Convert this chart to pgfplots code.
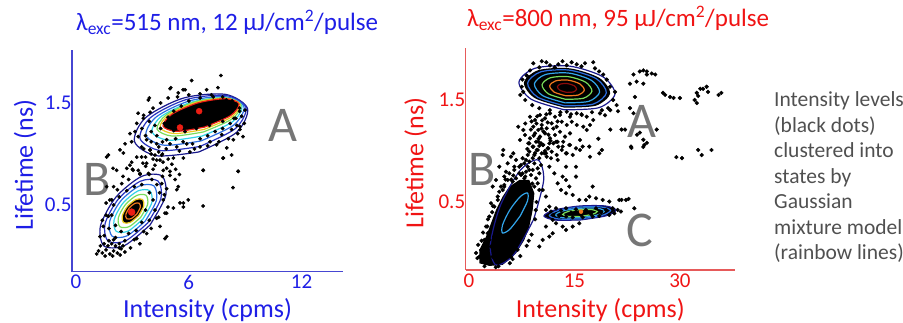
\documentclass[border=0pt]{standalone}
\usepackage{pgfplots}
\pgfplotsset{compat=1.18}
\usepackage{fontspec}
\setmainfont{Carlito}
\definecolor{tblue}{RGB}{30,30,230}
\definecolor{axblue}{RGB}{70,70,210}
\definecolor{tred}{RGB}{240,20,20}
\definecolor{axred}{RGB}{230,90,90}
\definecolor{cnavy}{RGB}{25,25,140}
\definecolor{cblue2}{RGB}{40,50,190}
\definecolor{cblue}{RGB}{45,110,225}
\definecolor{clblue}{RGB}{50,165,235}
\definecolor{ccyan}{RGB}{50,210,230}
\definecolor{cgreen}{RGB}{120,220,90}
\definecolor{cyellow}{RGB}{235,200,30}
\definecolor{corange}{RGB}{240,120,30}
\definecolor{cred}{RGB}{235,30,20}
\definecolor{cdred}{RGB}{140,10,10}
\definecolor{lettergray}{RGB}{118,118,118}
\definecolor{textgray}{RGB}{80,80,80}
\newcommand{\ticksize}{\fontsize{21}{24}\selectfont}
\newcommand{\labsize}{\fontsize{26}{30}\selectfont}
\newcommand{\letsize}{\fontsize{50}{50}\selectfont}
\pgfplotsset{
  panel/.style 2 args={
    scale only axis, clip=false,
    axis x line*=bottom, axis y line*=left,
    axis line style={-, draw=#1, line width=1.3pt},
    major tick length=0pt, tick style={draw=none},
    tick label style={font=\ticksize, text=#2},
    yticklabel style={xshift=3pt},
    label style={font=\labsize, text=#2},
    /pgf/number format/assume math mode=true,
  },
  ring/.style={smooth, line width=1.2pt, draw=#1},
  dots/.style={only marks, mark=*, mark size=#1, black},
}
\begin{document}
\begin{tikzpicture}
\useasboundingbox (0pt,0pt) rectangle (903pt,323pt);
% ---------------- left panel ----------------
\begin{axis}[panel={axblue}{tblue},
  at={(72pt,51.3pt)}, anchor=south west, width=271pt, height=221.7pt,
  xmin=-0.213, xmax=14.2, ymin=-0.154, ymax=2.02,
  xtick={0,6,12}, xticklabels={0,6,12},
  ytick={0.5,1.5}, yticklabels={0.5,1.5},
  xlabel={Intensity (cpms)}, ylabel={Lifetime (ns)},
  xlabel style={at={(axis description cs:0.5,-0.171)}, anchor=center},
  ylabel style={at={(axis description cs:-0.173,0.481)}, anchor=center},
]
% cluster A contours
\addplot[ring=cnavy] coordinates {(6.532,1.020)(4.286,0.983)(3.112,1.122)(3.699,1.356)(5.702,1.548)(7.948,1.585)(9.122,1.446)(8.535,1.212)(6.532,1.020)};
\addplot[ring=cblue2] coordinates {(6.585,1.074)(4.486,1.034)(3.404,1.152)(3.974,1.359)(5.861,1.534)(7.960,1.574)(9.042,1.456)(8.472,1.249)(6.585,1.074)};
\addplot[ring=cblue] coordinates {(6.639,1.128)(4.706,1.086)(3.724,1.184)(4.269,1.364)(6.021,1.520)(7.954,1.562)(8.936,1.464)(8.391,1.284)(6.639,1.128)};
\addplot[ring=ccyan] coordinates {(6.702,1.176)(4.932,1.135)(4.042,1.216)(4.555,1.371)(6.170,1.510)(7.940,1.551)(8.830,1.470)(8.317,1.315)(6.702,1.176)};
\addplot[ring=cgreen] coordinates {(6.772,1.216)(5.125,1.176)(4.309,1.245)(4.802,1.384)(6.314,1.510)(7.961,1.550)(8.777,1.481)(8.284,1.342)(6.772,1.216)};
\addplot[ring=cyellow] coordinates {(6.803,1.241)(5.238,1.200)(4.468,1.260)(4.945,1.386)(6.389,1.505)(7.954,1.546)(8.724,1.486)(8.247,1.360)(6.803,1.241)};
% scattered intensity levels
\addplot[dots=1.7pt] coordinates {
(7.71,1.77)(6.15,1.72)(5.0,1.64)(3.85,1.53)(5.7,1.63)(7.55,1.65)(6.95,1.63)(8.81,1.37)(8.88,1.17)(8.72,1.24)(8.55,1.28)(7.82,0.96)(8.28,0.99)(6.76,0.84)(8.62,0.83)(8.35,0.67)(6.76,0.49)(5.04,1.65)(3.90,1.55)(5.80,1.63)(5.44,1.60)(3.23,1.30)(3.14,1.22)(2.96,1.12)(3.58,1.35)(3.94,1.41)(3.31,1.17)(3.49,1.07)(3.94,1.04)(4.56,0.99)(5.18,0.96)(6.06,1.02)(6.60,1.07)(7.13,1.12)(7.75,1.19)(8.28,1.24)(8.72,1.27)(8.99,1.43)(8.37,1.14)(7.84,0.96)(6.77,0.84)(8.63,0.83)(2.87,1.20)(2.34,1.04)(2.61,1.10)(5.89,1.10)(5.36,1.07)(4.82,1.14)(4.29,1.10)(3.76,1.14)(7.48,1.09)(8.02,1.06)(5.71,0.96)
(3.5,1.25)(3.7,1.18)(4.0,1.22)(4.3,1.18)(4.6,1.12)(5.0,1.10)(5.3,1.15)(5.7,1.12)(6.2,1.10)(6.6,1.15)(7.0,1.18)(7.4,1.22)(7.8,1.25)(8.2,1.30)(8.5,1.35)(3.6,1.38)(3.9,1.32)(4.2,1.28)(4.5,1.25)(4.1,1.45)(4.5,1.5)(4.9,1.55)(5.4,1.56)(6.0,1.58)(6.6,1.59)(7.2,1.58)(7.8,1.56)(8.3,1.52)(8.7,1.45)(4.8,1.05)(5.5,1.03)(6.3,1.05)(7.0,1.08)(7.6,1.12)(3.3,1.4)(8.95,1.3)(8.6,1.2)(8.1,1.15)(4.0,1.12)(4.4,1.07)(3.6,1.05)
(3.9,0.62)(4.1,0.55)(3.7,0.45)(3.5,0.33)(3.2,0.25)(2.8,0.22)(2.4,0.24)(2.1,0.3)(1.9,0.4)(2.0,0.5)(2.3,0.58)(2.7,0.64)(3.1,0.68)(3.5,0.7)
(4.3,0.7)(4.45,0.62)(4.2,0.45)(3.9,0.35)(3.6,0.24)(3.1,0.16)(2.6,0.15)(2.1,0.18)(1.75,0.27)(1.6,0.4)(1.8,0.55)(2.2,0.65)(2.8,0.75)(3.4,0.8)(3.9,0.8)
(4.6,0.78)(4.7,0.6)(4.4,0.38)(4.0,0.27)(3.4,0.12)(2.9,0.08)(2.3,0.08)(1.5,0.2)(1.4,0.35)(1.6,0.52)(2.0,0.68)(2.5,0.78)(3.0,0.85)(3.7,0.88)(4.1,0.85)
(1.2,0.05)(1.4,0.03)(1.6,0.06)(1.8,0.02)(2.0,0.05)(2.2,0.03)(2.4,0.07)(1.3,0.1)(1.5,0.12)(1.7,0.1)(1.9,0.12)(2.1,0.1)(2.3,0.12)(2.5,0.1)(1.1,0.02)(1.55,0.0)(1.95,0.0)(2.35,0.01)(2.6,0.04)(1.75,0.15)(2.0,0.16)
(4.47,0.29)(4.29,0.37)(4.82,0.19)(3.76,0.22)(3.23,0.17)(4.73,0.42)(4.64,0.55)(4.82,0.66)(4.56,0.71)(4.03,0.75)(3.85,0.81)(3.31,0.84)(2.43,0.71)(1.90,0.55)(1.45,0.29)(1.28,0.19)(1.72,0.39)(1.63,0.68)(5.36,0.65)(5.53,0.52)(5.71,0.48)(5.18,0.47)(4.73,0.17)
(1.72,0.99)(2.52,1.01)(2.87,0.89)(2.16,0.84)(3.49,0.97)(3.76,0.91)(4.2,0.89)(4.47,0.94)(4.64,0.84)(5.0,0.79)(1.63,0.97)(1.97,0.86)(2.70,0.86)(2.96,0.92)(3.23,0.97)(3.56,0.91)(4.29,0.94)(4.63,0.92)(4.82,0.86)(5.0,0.83)(5.27,0.75)(5.44,0.68)(5.71,0.52)(5.97,0.55)(4.82,0.42)(4.89,0.48)(3.04,0.84)(3.40,0.81)(3.94,1.04)(4.20,0.99)(4.0,1.0)(4.4,1.02)(4.1,0.95)(3.7,0.97)(4.6,1.0)(4.9,0.95)(5.1,0.9)(5.3,0.85)(5.5,0.8)
};
% dense core of A
\addplot[draw=none, fill=black, smooth] coordinates {(6.835,1.264)(5.352,1.222)(4.628,1.274)(5.089,1.389)(6.463,1.500)(7.946,1.542)(8.670,1.490)(8.209,1.375)(6.835,1.264)} -- cycle;
\addplot[ring=cred] coordinates {(6.835,1.264)(5.352,1.222)(4.628,1.274)(5.089,1.389)(6.463,1.500)(7.946,1.542)(8.670,1.490)(8.209,1.375)(6.835,1.264)};
\addplot[dots=1.7pt] coordinates {(4.7,1.3)(4.9,1.36)(5.2,1.42)(5.6,1.47)(6.0,1.52)(6.6,1.55)(7.3,1.56)(8.0,1.53)(8.5,1.49)(8.7,1.42)(8.4,1.35)(7.8,1.32)(7.1,1.28)(6.4,1.25)(5.8,1.22)(5.2,1.23)};
% cluster B contours
\addplot[draw=none, fill=black, smooth] coordinates {(3.330,0.396)(2.883,0.329)(2.523,0.328)(2.461,0.393)(2.734,0.486)(3.181,0.553)(3.541,0.554)(3.603,0.489)(3.330,0.396)} -- cycle;
\addplot[ring=cnavy] coordinates {(3.936,0.304)(2.580,0.102)(1.489,0.098)(1.303,0.296)(2.128,0.578)(3.484,0.780)(4.574,0.784)(4.761,0.586)(3.936,0.304)};
\addplot[ring=cblue2] coordinates {(3.809,0.323)(2.643,0.149)(1.706,0.146)(1.545,0.316)(2.255,0.559)(3.421,0.733)(4.358,0.736)(4.519,0.566)(3.809,0.323)};
\addplot[ring=cblue] coordinates {(3.683,0.342)(2.707,0.197)(1.922,0.194)(1.787,0.337)(2.381,0.540)(3.357,0.685)(4.142,0.688)(4.277,0.545)(3.683,0.342)};
\addplot[ring=ccyan] coordinates {(3.556,0.362)(2.770,0.244)(2.138,0.242)(2.029,0.357)(2.508,0.520)(3.294,0.638)(3.926,0.640)(4.035,0.525)(3.556,0.362)};
\addplot[ring=cgreen] coordinates {(3.439,0.379)(2.829,0.288)(2.338,0.287)(2.254,0.376)(2.625,0.503)(3.235,0.594)(3.726,0.595)(3.810,0.506)(3.439,0.379)};
\addplot[ring=cyellow] coordinates {(3.330,0.396)(2.883,0.329)(2.523,0.328)(2.461,0.393)(2.734,0.486)(3.181,0.553)(3.541,0.554)(3.603,0.489)(3.330,0.396)};
\addplot[ring=corange] coordinates {(3.231,0.411)(2.933,0.366)(2.693,0.366)(2.652,0.409)(2.833,0.471)(3.131,0.516)(3.371,0.516)(3.412,0.473)(3.231,0.411)};
% state centres
\addplot[only marks, mark=*, mark size=3pt, cred] coordinates {(6.55,1.42)(5.53,1.26)};
\addplot[only marks, mark=*, mark size=3.5pt, cred] coordinates {(2.96,0.43)};
\node[font=\letsize, text=lettergray, inner sep=0pt] at (axis cs:11.01,1.284) {A};
\node[font=\letsize, text=lettergray, inner sep=0pt] at (axis cs:1.12,0.755) {B};
\end{axis}
% ---------------- right panel ----------------
\begin{axis}[panel={axred}{tred},
  at={(465.7pt,53pt)}, anchor=south west, width=269.3pt, height=222pt,
  xmin=-0.47, xmax=37.84, ymin=-0.167, ymax=2.01,
  xtick={0,15,30}, xticklabels={0,15,30},
  ytick={0.5,1.5}, yticklabels={0.5,1.5},
  xlabel={Intensity (cpms)}, ylabel={Lifetime (ns)},
  xlabel style={at={(axis description cs:0.5,-0.180)}, anchor=center},
  ylabel style={at={(axis description cs:-0.186,0.481)}, anchor=center},
]
\addplot[dots=1.9pt] coordinates {
(9.15,1.86)(10.34,1.88)(11.52,1.84)(12.70,1.85)(13.9,1.84)(15.32,1.85)(16.5,1.86)(17.68,1.87)(17.92,1.81)(19.1,1.75)(19.59,1.70)(20.06,1.63)(20.77,1.58)(7.72,1.58)(7.5,1.63)(8.68,1.79)
(10.0,1.82)(11.0,1.87)(12.2,1.82)(13.3,1.88)(14.6,1.87)(16.0,1.83)(18.5,1.78)(8.2,1.74)(7.6,1.70)(7.3,1.55)(8.0,1.50)(9.0,1.45)(20.5,1.50)(21.0,1.45)(19.8,1.42)(18.9,1.40)(17.5,1.38)(16.0,1.36)(14.5,1.36)(13.0,1.38)(11.5,1.40)(10.0,1.42)
(23.4,1.75)(24.8,1.79)(25.3,1.75)(26.0,1.76)(23.85,1.68)(24.8,1.66)(22.9,1.66)(23.6,1.53)(22.9,1.42)(23.4,1.37)(21.2,1.39)(20.1,1.40)(19.35,1.35)(27.6,1.57)(28.6,1.53)(30.0,1.52)(32.1,1.50)(32.4,1.57)(32.9,1.61)(33.8,1.63)(34.0,1.58)(32.4,1.47)(35.9,1.57)(35.5,1.55)(24.3,1.78)(25.3,1.78)(26.5,1.75)(33.3,1.61)(27.9,1.55)(29.1,1.52)(32.6,1.54)
(26.7,1.21)(24.8,1.11)(23.1,1.03)(21.7,1.21)(20.1,1.21)(23.9,1.16)(29.5,0.94)(30.3,0.93)(32.6,1.01)(33.1,0.96)(34.5,1.01)(18.9,1.01)(18.4,1.12)(24.8,1.04)(22.2,1.21)(24.3,1.18)(25.3,1.08)
(8.68,1.336)(9.39,1.304)(10.10,1.353)(10.81,1.320)(11.52,1.369)(12.23,1.336)(12.94,1.353)(13.90,1.385)(14.37,1.336)(15.32,1.369)(16.03,1.353)(16.74,1.336)(9.15,1.238)(9.86,1.206)(10.34,1.255)(11.05,1.222)(11.76,1.271)(12.47,1.238)(13.19,1.287)(13.90,1.255)(14.61,1.287)(15.32,1.255)(16.26,1.238)(17.21,1.255)(7.97,1.157)(8.68,1.124)(9.39,1.173)(10.10,1.141)(10.81,1.173)(11.52,1.124)(12.23,1.157)(12.94,1.189)(13.66,1.141)(14.37,1.173)(8.44,1.075)(9.15,1.042)(9.86,1.091)(10.57,1.059)(11.28,1.026)(11.99,1.075)(12.70,1.042)(13.41,1.091)(14.37,1.059)(15.79,1.108)(16.74,1.206)(17.68,1.304)(18.63,1.369)(7.73,1.206)(7.25,1.108)(7.01,1.238)(9.63,1.010)(10.34,0.977)(11.05,0.944)(11.76,0.993)(12.47,0.961)(13.19,1.010)(13.90,0.977)(15.79,1.010)(17.21,0.944)(4.88,1.010)(6.30,0.977)
(8.9,1.29)(9.6,1.27)(10.4,1.30)(11.2,1.28)(9.2,1.15)(9.9,1.12)(10.6,1.19)(11.3,1.16)(8.8,1.21)(10.0,1.05)(10.8,1.00)(11.6,1.10)(12.0,1.22)(12.6,1.29)(9.4,0.98)(8.3,1.02)(8.0,1.27)(10.3,1.22)(11.0,1.36)(12.6,1.09)(9.7,1.34)
(8.58,1.075)(9.53,1.09)(10.48,1.059)(11.43,1.075)(12.38,1.09)(13.32,1.043)(14.27,1.059)(15.22,1.026)(13.80,0.977)(14.75,0.961)(16.17,1.043)(17.11,1.043)(18.54,0.977)(23.04,1.043)(24.94,1.059)
(4.79,0.961)(5.97,0.945)(5.50,0.879)(6.45,0.846)(4.31,0.846)(5.02,0.749)(3.84,0.716)(4.55,0.651)(3.37,0.651)(4.08,0.553)(3.60,0.455)(2.89,0.357)(2.42,0.259)(3.13,0.487)(5.26,0.797)(6.69,0.912)(7.40,0.863)(8.11,0.912)(8.58,0.814)
(11.43,0.846)(12.14,0.781)(13.32,0.749)(12.61,0.683)(13.80,0.716)(15.22,0.749)(13.09,0.618)(13.80,0.585)(14.75,0.569)(15.69,0.520)(16.64,0.520)(17.59,0.651)(11.43,0.455)(11.90,0.324)(10.95,0.259)(12.38,0.291)(13.32,0.259)(13.80,0.226)(11.43,0.161)(10.48,0.128)(10.0,0.063)(11.90,0.193)(14.75,0.259)(15.69,0.291)(10.48,0.618)(10.95,0.553)(11.66,0.929)(10.95,0.977)(12.61,0.912)(13.80,0.846)(15.22,0.846)(14.27,0.651)(17.11,0.553)(18.07,0.536)(19.01,0.520)(19.96,0.504)(21.38,0.520)(22.33,0.520)(23.52,0.438)(21.7,0.52)(22.7,0.53)
(10.95,0.422)(11.66,0.406)(12.38,0.438)(13.09,0.416)(13.80,0.438)(14.51,0.396)(15.22,0.428)(15.93,0.373)(16.64,0.422)(17.35,0.383)(18.07,0.438)(18.78,0.396)(19.49,0.422)(20.44,0.438)(21.15,0.422)(21.62,0.406)(12.85,0.363)(13.80,0.357)(14.75,0.350)(16.17,0.350)(17.59,0.357)(18.54,0.363)(19.96,0.373)(11.99,0.373)(20.67,0.389)
(1.71,0.030)(2.18,-0.019)(1.94,-0.068)(2.66,-0.085)(3.13,-0.101)(2.42,0.063)(2.89,0.128)(3.60,0.161)(4.31,-0.068)(4.79,-0.036)(5.50,-0.003)(6.21,0.030)(1.47,-0.036)(3.37,-0.036)(4.08,0.030)(4.79,0.079)(5.50,0.128)(6.21,0.161)(6.69,0.095)(7.16,0.161)(7.63,0.226)(8.11,0.259)(6.92,0.030)(5.97,-0.036)(6.69,0.226)(7.40,0.324)(4.31,0.259)(3.84,0.193)(3.13,0.063)(2.18,0.128)(2.66,0.193)
(5.74,0.781)(6.45,0.814)(7.16,0.846)(7.87,0.879)(8.58,0.896)(9.30,0.879)(9.77,0.830)(10.0,0.781)(9.53,0.732)(8.82,0.765)(8.11,0.797)(7.40,0.765)(6.69,0.732)(6.21,0.700)(5.50,0.716)(8.35,0.961)(9.06,0.929)(7.63,0.929)(7.16,0.781)(9.06,0.814)(8.35,0.846)(7.87,0.732)(9.77,0.683)(9.30,0.651)(5.02,0.667)(4.79,0.618)(10.0,0.618)(10.24,0.863)
(9.06,1.043)(9.77,1.010)(10.24,1.075)(10.71,0.977)(11.19,1.026)(9.30,0.961)(8.58,0.994)(10.0,0.929)
(1.2,-0.05)(1.3,0.08)(2.0,0.2)(2.7,0.33)(3.4,0.46)(4.3,0.6)(5.2,0.72)(6.3,0.76)(7.6,0.78)(9.0,0.68)(9.6,0.5)(9.4,0.33)(8.9,0.18)(8.2,0.07)(7.3,-0.03)(5.8,-0.1)(3.8,-0.14)(2.2,-0.13)(1.0,0.0)(1.8,0.12)(2.6,0.26)(3.3,0.40)(4.1,0.52)(5.0,0.65)(6.0,0.72)(8.0,0.75)(9.5,0.42)(8.5,0.12)(6.2,-0.06)(4.2,-0.13)
};
% dense regions
\addplot[draw=none, fill=black] coordinates {(1.47,-0.101)(1.47,0.030)(2.42,0.161)(3.13,0.291)(3.84,0.422)(4.79,0.553)(5.74,0.651)(7.16,0.716)(8.58,0.716)(9.30,0.585)(9.06,0.422)(8.58,0.259)(7.87,0.128)(6.69,-0.003)(4.79,-0.117)(2.89,-0.127)} -- cycle;
\addplot[draw=none, fill=black, smooth] coordinates {(13.594,1.425)(9.351,1.519)(7.795,1.671)(9.840,1.792)(14.286,1.811)(18.529,1.717)(20.085,1.565)(18.040,1.444)(13.594,1.425)} -- cycle;
\addplot[draw=none, fill=black, smooth] coordinates {(15.873,0.324)(12.228,0.323)(10.669,0.363)(12.111,0.420)(15.707,0.460)(19.352,0.461)(20.911,0.421)(19.469,0.364)(15.873,0.324)} -- cycle;
% state A
\addplot[ring=cnavy] coordinates {(13.556,1.404)(8.841,1.508)(7.112,1.677)(9.384,1.811)(14.324,1.832)(19.039,1.728)(20.768,1.559)(18.496,1.425)(13.556,1.404)};
\addplot[ring=cblue] coordinates {(13.625,1.443)(9.759,1.528)(8.341,1.666)(10.204,1.776)(14.255,1.793)(18.121,1.708)(19.539,1.570)(17.676,1.460)(13.625,1.443)};
\addplot[ring=clblue] coordinates {(13.679,1.472)(10.473,1.543)(9.297,1.658)(10.842,1.749)(14.201,1.764)(17.407,1.693)(18.583,1.578)(17.038,1.487)(13.679,1.472)};
\addplot[ring=cgreen] coordinates {(13.740,1.507)(11.289,1.561)(10.389,1.649)(11.571,1.718)(14.140,1.729)(16.591,1.675)(17.491,1.587)(16.309,1.518)(13.740,1.507)};
\addplot[ring=corange] coordinates {(13.802,1.541)(12.104,1.578)(11.482,1.639)(12.300,1.687)(14.078,1.695)(15.776,1.658)(16.398,1.597)(15.580,1.549)(13.802,1.541)};
\addplot[ring=cdred] coordinates {(13.863,1.575)(12.920,1.596)(12.574,1.630)(13.029,1.657)(14.017,1.661)(14.960,1.640)(15.306,1.606)(14.851,1.579)(13.863,1.575)};
% state B
\addplot[ring=cnavy] coordinates {(9.204,0.331)(6.396,-0.014)(3.841,-0.118)(3.036,0.080)(4.452,0.463)(7.260,0.808)(9.815,0.912)(10.620,0.714)(9.204,0.331)};
\addplot[ring=clblue] coordinates {(7.268,0.361)(5.799,0.232)(4.765,0.196)(4.773,0.275)(5.818,0.423)(7.287,0.552)(8.321,0.588)(8.313,0.509)(7.268,0.361)};
% state C
\addplot[ring=cnavy] coordinates {(15.873,0.324)(12.228,0.323)(10.669,0.363)(12.111,0.420)(15.707,0.460)(19.352,0.461)(20.911,0.421)(19.469,0.364)(15.873,0.324)};
\addplot[ring=cblue] coordinates {(15.861,0.334)(12.762,0.333)(11.437,0.367)(12.663,0.416)(15.719,0.450)(18.818,0.451)(20.143,0.417)(18.917,0.368)(15.861,0.334)};
\addplot[ring=clblue] coordinates {(15.846,0.346)(13.368,0.345)(12.308,0.372)(13.288,0.411)(15.734,0.438)(18.212,0.439)(19.272,0.412)(18.292,0.373)(15.846,0.346)};
\addplot[ring=cgreen] coordinates {(15.830,0.359)(14.080,0.359)(13.332,0.378)(14.024,0.405)(15.750,0.425)(17.500,0.425)(18.248,0.406)(17.556,0.379)(15.830,0.359)};
\addplot[only marks, mark=*, mark size=2pt, corange] coordinates {(15.93,0.405)};
\node[font=\letsize, text=lettergray, inner sep=0pt] at (axis cs:24.57,1.287) {A};
\node[font=\letsize, text=lettergray, inner sep=0pt] at (axis cs:1.81,0.814) {B};
\node[font=\letsize, text=lettergray, inner sep=0pt] at (axis cs:24.32,0.225) {C};
\end{axis}
% titles
\node[anchor=base west, inner sep=0pt, font=\fontsize{25}{30}\selectfont, text=tblue] at (76pt,292pt) {λ\textsubscript{exc}=515 nm, 12 μJ/cm\textsuperscript{2}/pulse};
\node[anchor=base west, inner sep=0pt, font=\fontsize{25}{30}\selectfont, text=tred] at (467pt,296pt) {λ\textsubscript{exc}=800 nm, 95 μJ/cm\textsuperscript{2}/pulse};
% side note
\begin{scope}[every node/.style={anchor=base west, inner sep=0pt, font=\fontsize{21.5}{25}\selectfont, text=textgray}]
\node at (774pt,216pt) {Intensity levels};
\node at (774pt,190.5pt) {(black dots)};
\node at (774pt,165pt) {clustered into};
\node at (774pt,139.5pt) {states by};
\node at (774pt,114pt) {Gaussian};
\node at (774pt,88.5pt) {mixture model};
\node at (774pt,63pt) {(rainbow lines)};
\end{scope}
\end{tikzpicture}
\end{document}
